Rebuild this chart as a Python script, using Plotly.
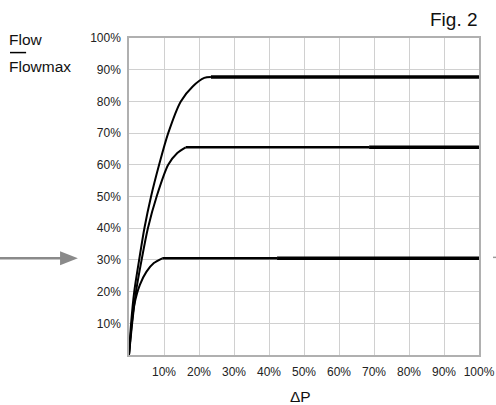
import plotly.graph_objects as go

# curve points (dP %, flow %)
rise_a_x = [0, 0.6, 1.5, 2.9, 4.4, 6.3, 8.6, 11.2, 14.8, 18.2, 21.5, 23.4]
rise_a_y = [0, 10, 20, 30, 40, 50, 60, 70, 80, 84.7, 87.4, 87.7]
rise_b_x = [0, 0.9, 2.0, 3.6, 5.4, 7.9, 11.2, 13.8, 16.2]
rise_b_y = [0, 10, 20, 30, 40, 50, 60, 63.7, 65.5]
rise_c_x = [0, 0.8, 1.5, 3.1, 5.0, 7.1, 9.5]
rise_c_y = [0, 10, 15.8, 22.1, 26.3, 29, 30.5]

# flat parts: start, where the line gets heavier, end
flat_a = [23.4, 23.4, 100]
flat_b = [16.2, 68.6, 100]
flat_c = [9.5, 42.3, 100]

ticks = [10, 20, 30, 40, 50, 60, 70, 80, 90, 100]
tick_text = [f"{t}%" for t in ticks]

fig = go.Figure()

for xs, ys in [(rise_a_x, rise_a_y), (rise_b_x, rise_b_y), (rise_c_x, rise_c_y)]:
    fig.add_trace(go.Scatter(x=xs, y=ys, mode="lines",
                             line=dict(color="black", width=2, shape="spline", smoothing=0.8)))

for flat, level in [(flat_a, rise_a_y[-1]), (flat_b, rise_b_y[-1]), (flat_c, rise_c_y[-1])]:
    fig.add_trace(go.Scatter(x=flat[:2], y=[level, level], mode="lines",
                             line=dict(color="black", width=2.5)))
    fig.add_trace(go.Scatter(x=flat[1:], y=[level, level], mode="lines",
                             line=dict(color="black", width=3.5)))

font = "Liberation Sans, Arial, sans-serif"

fig.update_xaxes(range=[0, 100], tickvals=ticks, ticktext=tick_text,
                 showgrid=True, gridcolor="#d0d0d0", gridwidth=1.3,
                 showline=True, linecolor="#b0b0b0", linewidth=1.5, mirror=True,
                 ticks="outside", ticklen=5, tickcolor="rgba(0,0,0,0)",
                 zeroline=False, tickfont=dict(size=12, color="#222"))
fig.update_yaxes(range=[0, 100], tickvals=ticks, ticktext=tick_text,
                 showgrid=True, gridcolor="#d0d0d0", gridwidth=1.3,
                 showline=True, linecolor="#b0b0b0", linewidth=1.5, mirror=True,
                 ticks="outside", ticklen=4, tickcolor="rgba(0,0,0,0)",
                 zeroline=False, tickfont=dict(size=12, color="#222"))

# gray arrow pointing at the 30% line, and the stub on the right
fig.add_shape(type="line", xref="paper", yref="y", x0=-0.37, x1=-0.19, y0=30.5, y1=30.5,
              line=dict(color="#8a8a8a", width=2.5))
fig.add_shape(type="path", xref="paper", yref="y",
              path="M -0.197,32.7 L -0.146,30.5 L -0.197,28.3 Z",
              fillcolor="#8a8a8a", line=dict(width=0))
fig.add_shape(type="line", xref="paper", yref="y", x0=1.04, x1=1.06, y0=30.8, y1=30.8,
              line=dict(color="#9a9a9a", width=1.5))

# fraction bar between Flow and Flowmax
fig.add_shape(type="line", xref="paper", yref="paper", x0=-0.340, x1=-0.294, y0=0.954, y1=0.954,
              line=dict(color="black", width=1.5))

fig.add_annotation(text="Flow", xref="paper", yref="paper", x=-0.35, y=0.995,
                   xanchor="left", yanchor="middle", showarrow=False,
                   font=dict(size=15.5, color="#111", family=font))
fig.add_annotation(text="Flowmax", xref="paper", yref="paper", x=-0.35, y=0.910,
                   xanchor="left", yanchor="middle", showarrow=False,
                   font=dict(size=15.5, color="#111", family=font))
fig.add_annotation(text="Fig. 2", xref="paper", yref="paper", x=1.003, y=1.057,
                   xanchor="right", yanchor="middle", showarrow=False,
                   font=dict(size=19, color="#111", family=font))
fig.add_annotation(text="ΔP", xref="paper", yref="paper", x=0.49, y=-0.13,
                   xanchor="center", yanchor="middle", showarrow=False,
                   font=dict(size=15.5, color="#111", family=font))

fig.update_layout(width=496, height=405, showlegend=False,
                  margin=dict(l=129, r=17, t=38, b=50, autoexpand=False),
                  paper_bgcolor="white", plot_bgcolor="white",
                  font=dict(family=font, color="#222"))

# page body has a default 8px margin; drop it so the figure sits at the corner
fig.write_html("out.html", config={"displayModeBar": False},
               post_script="document.body.style.margin='0';")
